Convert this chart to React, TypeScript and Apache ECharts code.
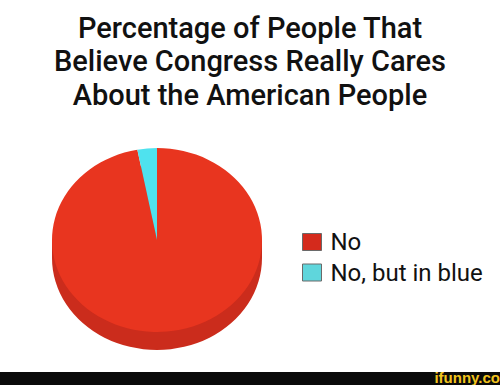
import React, { useEffect, useRef } from 'react';
import * as echarts from 'echarts';

const titleLines = ['Percentage of People That', 'Believe Congress Really Cares', 'About the American People'];
const categories = ['No', 'No, but in blue'];
const values = [97, 3];
const sliceColors = ['#e8351f', '#4fe2ee'];
const legendColors = ['#d42a1c', '#5fd6dc'];
const watermark = 'ifunny.co';

export default function App() {
  const ref = useRef<HTMLDivElement>(null);
  useEffect(() => {
    if (!ref.current) return;
    const chart = echarts.init(ref.current, null, { renderer: 'svg' });
    const cx = 157, cy = 240, rx = 105, ry = 92, depth = 18;
    const sy = ry / rx;
    const total = values.reduce((a, b) => a + b, 0);
    const series = categories.map((name, i) => ({
      type: 'custom',
      name,
      coordinateSystem: 'none',
      itemStyle: { color: legendColors[i] },
      data: [values[i]],
      renderItem: (params: any, api: any) => {
        let before = 0;
        for (let j = 0; j < i; j++) before += values[j];
        const v = api.value(0);
        const start = -Math.PI / 2 + (2 * Math.PI * before) / total;
        const end = -Math.PI / 2 + (2 * Math.PI * (before + v)) / total;
        const children: any[] = [];
        if (i === 0) {
          children.push({
            type: 'rect',
            shape: { x: -rx, y: 0, width: 2 * rx, height: depth / sy },
            style: { fill: '#cb2c1c' },
          });
          children.push({
            type: 'circle',
            shape: { cx: 0, cy: depth / sy, r: rx },
            style: { fill: '#cb2c1c' },
          });
        }
        children.push({
          type: 'sector',
          shape: { cx: 0, cy: 0, r: rx, r0: 0, startAngle: start, endAngle: end, clockwise: true },
          style: { fill: sliceColors[i] },
        });
        return { type: 'group', x: cx, y: cy, scaleY: sy, children };
      },
    }));
    chart.setOption({
      animation: false,
      backgroundColor: '#ffffff',
      title: {
        text: titleLines.join('\n'),
        left: 'center',
        top: 11,
        padding: [0, 6, 0, 0],
        textStyle: {
          fontFamily: 'Roboto',
          fontWeight: 500,
          fontSize: 29,
          lineHeight: 33.5,
          color: '#111111',
        },
      },
      legend: {
        orient: 'vertical',
        left: 302,
        top: 230,
        padding: 0,
        icon: 'rect',
        itemWidth: 19,
        itemHeight: 17,
        itemGap: 6.5,
        selectedMode: false,
        data: categories.map((c, i) => ({
          name: c,
          itemStyle: { color: legendColors[i], borderColor: '#6a6a6a', borderWidth: 1 },
        })),
        textStyle: { fontFamily: 'Roboto', fontSize: 24, lineHeight: 17, color: '#111111', padding: [0, 0, 0, 4] },
      },
      graphic: [
        { type: 'rect', left: 0, top: 372, shape: { width: 500, height: 13 }, style: { fill: '#0a0a0a' } },
        {
          type: 'text',
          right: 0,
          top: 370,
          style: { text: watermark, fill: '#f2c41d', font: 'bold 15px "Liberation Sans", sans-serif' },
        },
      ],
      series,
    });
    return () => chart.dispose();
  }, []);
  return <div ref={ref} style={{ position: 'fixed', left: 0, top: 0, width: 500, height: 385 }} />;
}
